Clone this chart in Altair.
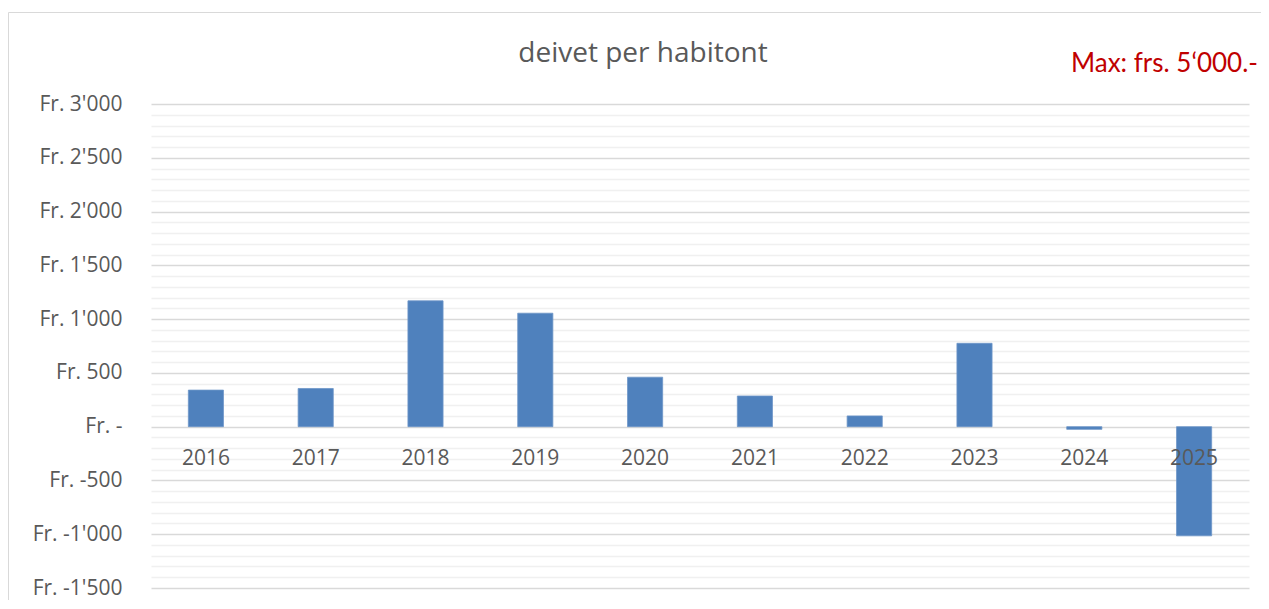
import altair as alt
import pandas as pd

years = ["2016", "2017", "2018", "2019", "2020", "2021", "2022", "2023", "2024", "2025"]
values = [340, 355, 1170, 1055, 460, 285, 100, 775, -25, -1015]

major_ticks = [3000, 2500, 2000, 1500, 1000, 500, 0, -500, -1000, -1500]
major_labels = ["Fr. 3'000", "Fr. 2'500", "Fr. 2'000", "Fr. 1'500", "Fr. 1'000",
                "Fr. 500", "Fr. -\u00a0\u00a0\u00a0", "Fr. -500", "Fr. -1'000", "Fr. -1'500"]
minor_step = 100

title_text = "deivet per habitont"
note_text = "Max: frs. 5\u2018000.-"

df = pd.DataFrame({"year": years, "value": values})

all_ticks = list(range(min(major_ticks), max(major_ticks) + 1, minor_step))
label_expr = "''"
for v, lab in zip(reversed(major_ticks), reversed(major_labels)):
    label_expr = f'datum.value == {v} ? "{lab}" : ({label_expr})'

FONT = "Open Sans"
GRAY = "#595959"

x_scale = alt.Scale(domain=years, paddingInner=0.68, paddingOuter=0.34)
y_scale = alt.Scale(domain=[min(major_ticks), max(major_ticks)], nice=False, zero=False)

base = alt.Chart(df)

bars = base.mark_bar(color="#4f81bd", stroke="#6d95c8", strokeWidth=0.8).encode(
    x=alt.X("year:N", scale=x_scale, axis=None, sort=years),
    y=alt.Y(
        "value:Q",
        scale=y_scale,
        title=None,
        axis=alt.Axis(
            values=all_ticks,
            tickCount=len(all_ticks) + 5,
            labelExpr=label_expr,
            grid=True,
            gridColor={"condition": {"test": "datum.value % 500 === 0", "value": "#d9d9d9"}, "value": "#f0f0f0"},
            gridWidth=1.3,
            domain=False,
            ticks=False,
            labelPadding=29,
            labelFont=FONT,
            labelFontSize=21,
            labelColor=GRAY,
            labelOverlap=False,
        ),
    ),
)

xlabels = base.mark_text(font=FONT, fontSize=21, color=GRAY, dy=32, baseline="middle").encode(
    x=alt.X("year:N", scale=x_scale, sort=years),
    y=alt.datum(0),
    text="year:N",
)

title = alt.Chart(pd.DataFrame({"t": [title_text]})).mark_text(
    font="Open Sans", fontSize=28, color=GRAY, align="center", baseline="alphabetic"
).encode(x=alt.value(492), y=alt.value(-42), text="t:N")

note = alt.Chart(pd.DataFrame({"t": [note_text]})).mark_text(
    font="Lato", fontSize=26, color="#c00000", align="right", baseline="alphabetic"
).encode(x=alt.value(1107), y=alt.value(-32), text="t:N")

border = alt.Chart(pd.DataFrame({"a": [0]})).mark_rect(
    fill=None, stroke="#d9d9d9", strokeWidth=1
).encode(x=alt.value(-142.5), x2=alt.value(1140), y=alt.value(-91.5), y2=alt.value(520))

chart = alt.layer(border, bars, xlabels, title, note).properties(
    width=1098,
    height=484,
    padding={"left": 143, "top": 96, "right": 12, "bottom": 12},
    autosize=alt.AutoSizeParams(type="none"),
).configure_view(stroke=None)

chart.save("out.html", embed_options={"renderer": "svg", "actions": False})
